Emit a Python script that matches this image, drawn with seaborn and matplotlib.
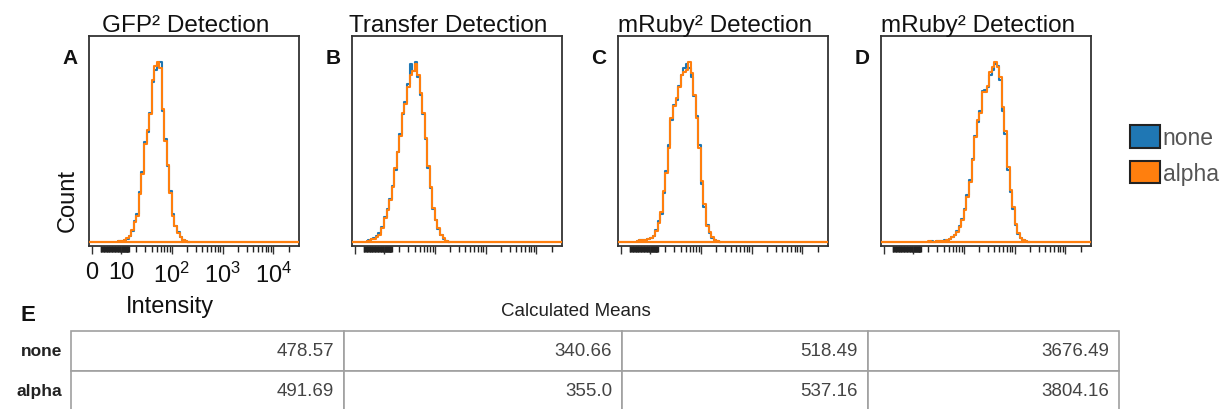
import numpy as np
import pandas as pd
import matplotlib
matplotlib.use("Agg")
import matplotlib.pyplot as plt
import seaborn as sns
from matplotlib.patches import Patch
from matplotlib.ticker import FixedLocator, NullFormatter

# histogram heights (% of mode), bins 0.05 decades wide starting at log10 value *Start
binWidth = 0.05

gfpStart = 0.95
gfpNone = [0.3, 0.5, 1.0, 1.7, 3.2, 6.0, 11.5, 15.2, 27.5, 39.0, 55.5, 61.0, 72, 89,
           96, 99, 100, 73, 57, 42, 28, 15.5, 8.5, 5.5, 2.5, 1.2, 0.3, 0]
gfpAlpha = [0.3, 0.4, 0.9, 1.9, 3.0, 6.5, 10.8, 14.5, 26.6, 37.7, 54.5, 62.3, 71, 90,
            98, 100, 97, 74, 56, 43, 27, 14.5, 9, 5, 2.8, 1.1, 0.2, 0]

transferStart = 0.6
transferNone = [0.3, 0.7, 1.0, 1.4, 2.0, 3.2, 4.6, 8.0, 14, 18.5, 24, 31, 40, 50, 60, 71,
                78, 88, 99, 95, 100, 92, 82, 71, 57, 41, 30, 18, 12, 7, 3.5, 1.6, 0.4, 0]
transferAlpha = [0.2, 0.6, 0.9, 1.3, 1.7, 2.8, 4.0, 7.4, 13, 17.6, 23, 30.5, 41, 50, 59, 72,
                 77, 86, 93, 95, 99, 93, 83, 72, 58, 42, 30.5, 19, 12, 7.4, 3.7, 1.9, 0.4, 0]

rubyCStart = 0.75
rubyCNone = [0.4, 1.0, 0.8, 1.2, 1.4, 2.0, 3.3, 6.5, 11.5, 15.5, 27, 39.5, 54, 68, 76, 79,
             87, 93, 97, 99, 97, 92, 81, 70, 54, 32, 19.5, 9.5, 4.8, 2.2, 1.0, 0.3, 0]
rubyCAlpha = [0.4, 0.9, 0.9, 1.1, 1.5, 2.2, 3.0, 6.1, 10.7, 16.3, 28.3, 38.4, 52.3, 69, 75.4,
              80, 86.5, 93, 94.8, 95.7, 100, 94, 82, 69, 52.3, 33.8, 20.9, 8.9, 5.2, 2.4, 1.1, 0.4, 0]

rubyDStart = 1.3
rubyDNone = [0.0, 0.3, 0, 0.2, 0.2, 0.5, 0.7, 1.1, 1.7, 2.6, 3.8, 5.8, 8.6, 12.8, 18.5, 26,
             34.5, 46, 59, 67, 73, 84, 84.5, 86, 93, 96, 99, 98, 90, 73, 60, 40, 27.5, 18,
             9.2, 4.2, 2.0, 0.8, 0.3, 0]
rubyDAlpha = [0.4, 0, 0, 0.2, 0.2, 0.4, 0.6, 0.9, 1.5, 2.4, 3.5, 5.2, 8.0, 12, 17.6, 25,
              33.3, 45.4, 58.3, 67.6, 72, 83.3, 83.3, 87, 94.4, 97.2, 100, 97.2, 91.7, 75, 62,
              41.7, 28.7, 19.4, 10, 4.6, 2.2, 0.9, 0.4, 0]

panelLetters = ["A", "B", "C", "D"]
panelTitles = ["GFP² Detection", "Transfer Detection", "mRuby² Detection", "mRuby² Detection"]
tickValues = [0, 10, 100, 1000, 10000]
tickLabels = ["0", "10", "$10^2$", "$10^3$", "$10^4$"]

seriesNames = ["none", "alpha"]
meanNone = [478.57, 340.66, 518.49, 3676.49]
meanAlpha = [491.69, 355.0, 537.16, 3804.16]

blue = "#1f77b4"
orange = "#ff7f0e"

sns.set_theme(style="ticks")
plt.rcParams["font.family"] = ["Liberation Sans", "DejaVu Sans"]
plt.rcParams["mathtext.fontset"] = "custom"
plt.rcParams["mathtext.rm"] = "Liberation Sans"
plt.rcParams["mathtext.it"] = "Liberation Sans:italic"
plt.rcParams["mathtext.bf"] = "Liberation Sans:bold"

W, H = 1230, 410
fig = plt.figure(figsize=(W / 100, H / 100), dpi=100)

panels = [
    (gfpStart, gfpNone, gfpAlpha),
    (transferStart, transferNone, transferAlpha),
    (rubyCStart, rubyCNone, rubyCAlpha),
    (rubyDStart, rubyDNone, rubyDAlpha),
]
axLefts = [89, 352, 618, 881]
# logicle-style axis: dense ticks near zero, then decade minor ticks
denseTicks = list(np.arange(3, 14.01, 0.25))
decadeTicks = [m * 10 ** k for k in (1, 2, 3) for m in range(2, 10)] + [20000]

for i, (start, noneVals, alphaVals) in enumerate(panels):
    ax = fig.add_axes([axLefts[i] / W, (H - 247) / H, 210 / W, 210 / H])
    edges = 10 ** (start + binWidth * np.arange(len(noneVals) + 1))
    centers = np.sqrt(edges[:-1] * edges[1:])
    for vals, col in ((noneVals, blue), (alphaVals, orange)):
        df = pd.DataFrame({"intensity": centers, "count": vals})
        sns.histplot(data=df, x="intensity", weights="count", bins=edges.tolist(),
                     element="step", fill=False, color=col, linewidth=1.5, ax=ax)
    ax.axhline(0, color=orange, linewidth=1.6, zorder=3)
    # scale set after drawing so the bins stay in intensity units
    ax.set_xscale("symlog", linthresh=10, linscale=0.517)

    peak = max(max(noneVals), max(alphaVals))
    ax.set_xlim(-1.03, 3.2e4)
    ax.set_ylim(-0.024 * peak, 1.147 * peak)
    ax.set_yticks([])

    ax.xaxis.set_major_locator(FixedLocator(tickValues))
    ax.xaxis.set_minor_locator(FixedLocator(denseTicks + decadeTicks))
    ax.xaxis.set_minor_formatter(NullFormatter())
    ax.set_xticklabels(tickLabels if i == 0 else [""] * len(tickValues))
    ax.tick_params(axis="x", which="major", direction="out", length=6, width=1,
                   color="#333333", labelsize=17, labelcolor="#111111", pad=5)
    ax.tick_params(axis="x", which="minor", direction="out", length=4.5, width=1,
                   color="#222222")
    for s in ax.spines.values():
        s.set_color("#333333")
        s.set_linewidth(1.3)

    if i == 0:
        ax.set_ylabel("Count", fontsize=17, color="#111111")
        ax.yaxis.set_label_coords(-0.05, 0.22)
        ax.set_xlabel("Intensity", fontsize=17, color="#111111")
        ax.xaxis.set_label_coords(0.386, -0.235)
    else:
        ax.set_ylabel("")
        ax.set_xlabel("")

    ax.set_title(panelTitles[i], fontsize=17.5, x=0.46, pad=3, color="#111111")
    fig.text((axLefts[i] - 19) / W, 1 - 58 / H, panelLetters[i], ha="center", va="center",
             fontsize=15, fontweight="bold", color="#111111")

# legend
handles = [Patch(facecolor=blue, edgecolor="#222222", linewidth=1.5, label=seriesNames[0]),
           Patch(facecolor=orange, edgecolor="#222222", linewidth=1.5, label=seriesNames[1])]
fig.legend(handles=handles, loc="upper left", bbox_to_anchor=(1130 / W, 1 - 126 / H),
           frameon=False, fontsize=16.5, handlelength=1.3, handleheight=1.15,
           handletextpad=0.12, labelspacing=0.5, borderpad=0, borderaxespad=0,
           labelcolor="#555555")

# table of means
fig.text(28 / W, 1 - 316 / H, "E", ha="center", va="center", fontsize=16,
         fontweight="bold", color="#111111")
fig.text(576 / W, 1 - 312 / H, "Calculated Means", ha="center", va="center",
         fontsize=13.5, color="#222222")

colPx = [56, 273, 278, 246, 251]
tax = fig.add_axes([15 / W, -2 / H, sum(colPx) / W, 80 / H])
tax.axis("off")
cellText = [[seriesNames[0]] + [str(v) for v in meanNone],
            [seriesNames[1]] + [str(v) for v in meanAlpha]]
tbl = tax.table(cellText=cellText, colWidths=[w / sum(colPx) for w in colPx],
                cellLoc="right", bbox=[0, 0, 1, 1])
tbl.auto_set_font_size(False)
for (r, c), cell in tbl.get_celld().items():
    cell.PAD = 10 / colPx[c]
    if c == 0:
        cell.visible_edges = "open"
        cell.set_text_props(fontsize=12.5, fontweight="bold", color="#222222")
        cell.PAD = 9 / colPx[0]
    else:
        cell.set_edgecolor("#a0a0a0")
        cell.set_linewidth(1.2)
        cell.set_text_props(fontsize=13.5, color="#444444")

fig.savefig("out.png", dpi=100)
